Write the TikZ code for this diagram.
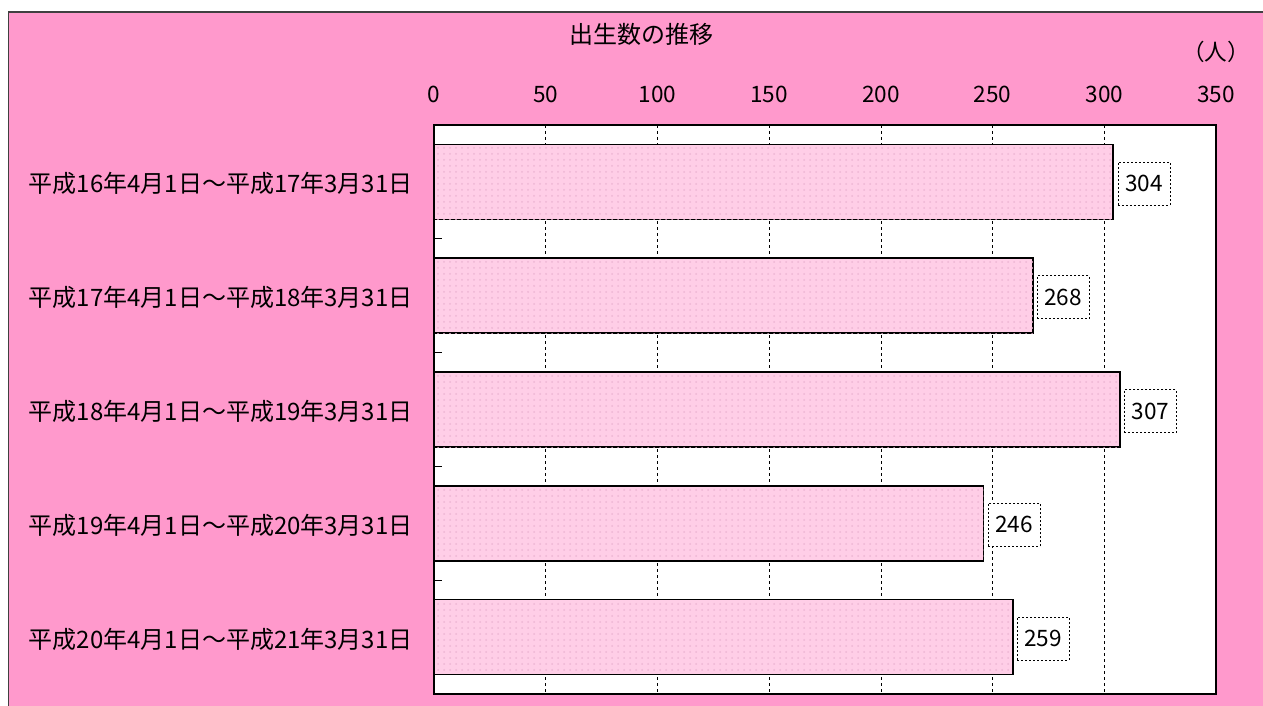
\documentclass[tikz,border=0pt]{standalone}
\usepackage{fontspec}
\setmainfont{Noto Sans CJK JP}
\usetikzlibrary{patterns}
\definecolor{fonpink}{RGB}{255,153,204}
\definecolor{barpink}{RGB}{255,206,231}
\definecolor{dotpink}{RGB}{238,182,212}
\tikzset{
  barbox/.style={draw=black, line width=0.8pt, fill=barpink, postaction={pattern=dots, pattern color=dotpink}},
  gridline/.style={black, line width=0.4pt, dash pattern=on 1.5pt off 1.5pt},
  vallabel/.style={draw, line width=0.4pt, dash pattern=on 1pt off 1pt, fill=white, anchor=west,
    minimum width=26pt, minimum height=21.5pt, inner sep=1pt, font=\fontsize{11.3}{13}\selectfont},
  catlabel/.style={anchor=east, inner sep=0pt, font=\fontsize{12}{14}\selectfont},
  ticklabel/.style={inner sep=0pt, font=\fontsize{11.3}{13}\selectfont}
}
\begin{document}
\begin{tikzpicture}[x=0.5pt, y=-0.5pt]
        \useasboundingbox (0,0) rectangle (1263,706);
        \clip (0,0) rectangle (1263,706);
        % фон
        \fill[white] (0,0) rectangle (1263,706);
        \filldraw[fill=fonpink, draw=black!75, line width=0.8pt] (8.5,12) rectangle (1280,720);
        \fill[white] (434,125) rectangle (1216,694);
        % сетка
        \draw[gridline] (545.7,125) -- (545.7,694);
        \draw[gridline] (657.4,125) -- (657.4,694);
        \draw[gridline] (769.1,125) -- (769.1,694);
        \draw[gridline] (880.9,125) -- (880.9,694);
        \draw[gridline] (992.6,125) -- (992.6,694);
        \draw[gridline] (1104.3,125) -- (1104.3,694);
        % столбцы
        \draw[barbox] (434,144.4) rectangle (1113.2,219.4);
        \draw[barbox] (434,258.2) rectangle (1032.8,333.2);
        \draw[barbox] (434,372.0) rectangle (1119.9,447.0);
        \draw[barbox] (434,485.8) rectangle (983.6,560.8);
        \draw[barbox] (434,599.6) rectangle (1012.7,674.6);
        % рамка
        \draw[black, line width=1pt] (434,125) rectangle (1216,694);
        \draw[black, line width=0.6pt] (434,238.8) -- (442,238.8);
        \draw[black, line width=0.6pt] (434,352.6) -- (442,352.6);
        \draw[black, line width=0.6pt] (434,466.4) -- (442,466.4);
        \draw[black, line width=0.6pt] (434,580.2) -- (442,580.2);
        % значения
        \node[vallabel] (v1) at (1117.5,183.5) {304};
        \node[vallabel] (v2) at (1036.8,297.3) {268};
        \node[vallabel] (v3) at (1123.9,411.1) {307};
        \node[vallabel] (v4) at (987.6,524.9) {246};
        \node[vallabel] (v5) at (1016.7,638.7) {259};
        % подписи
        \node[catlabel] (c1) at (413,183) {平成16年4月1日～平成17年3月31日};
        \node[catlabel] (c2) at (413,297) {平成17年4月1日～平成18年3月31日};
        \node[catlabel] (c3) at (413,411) {平成18年4月1日～平成19年3月31日};
        \node[catlabel] (c4) at (413,525) {平成19年4月1日～平成20年3月31日};
        \node[catlabel] (c5) at (413,639) {平成20年4月1日～平成21年3月31日};
        % ось
        \node[ticklabel] (t0) at (434,94) {0};
        \node[ticklabel] (t50) at (545.7,94) {50};
        \node[ticklabel] (t100) at (657.4,94) {100};
        \node[ticklabel] (t150) at (769.1,94) {150};
        \node[ticklabel] (t200) at (880.9,94) {200};
        \node[ticklabel] (t250) at (992.6,94) {250};
        \node[ticklabel] (t300) at (1104.3,94) {300};
        \node[ticklabel] (t350) at (1216,94) {350};
        \node[ticklabel] (unit) at (1216,52) {（人）};
        \node[ticklabel, font=\fontsize{12}{14}\selectfont] (title) at (641,34) {出生数の推移};
\end{tikzpicture}
\end{document}
